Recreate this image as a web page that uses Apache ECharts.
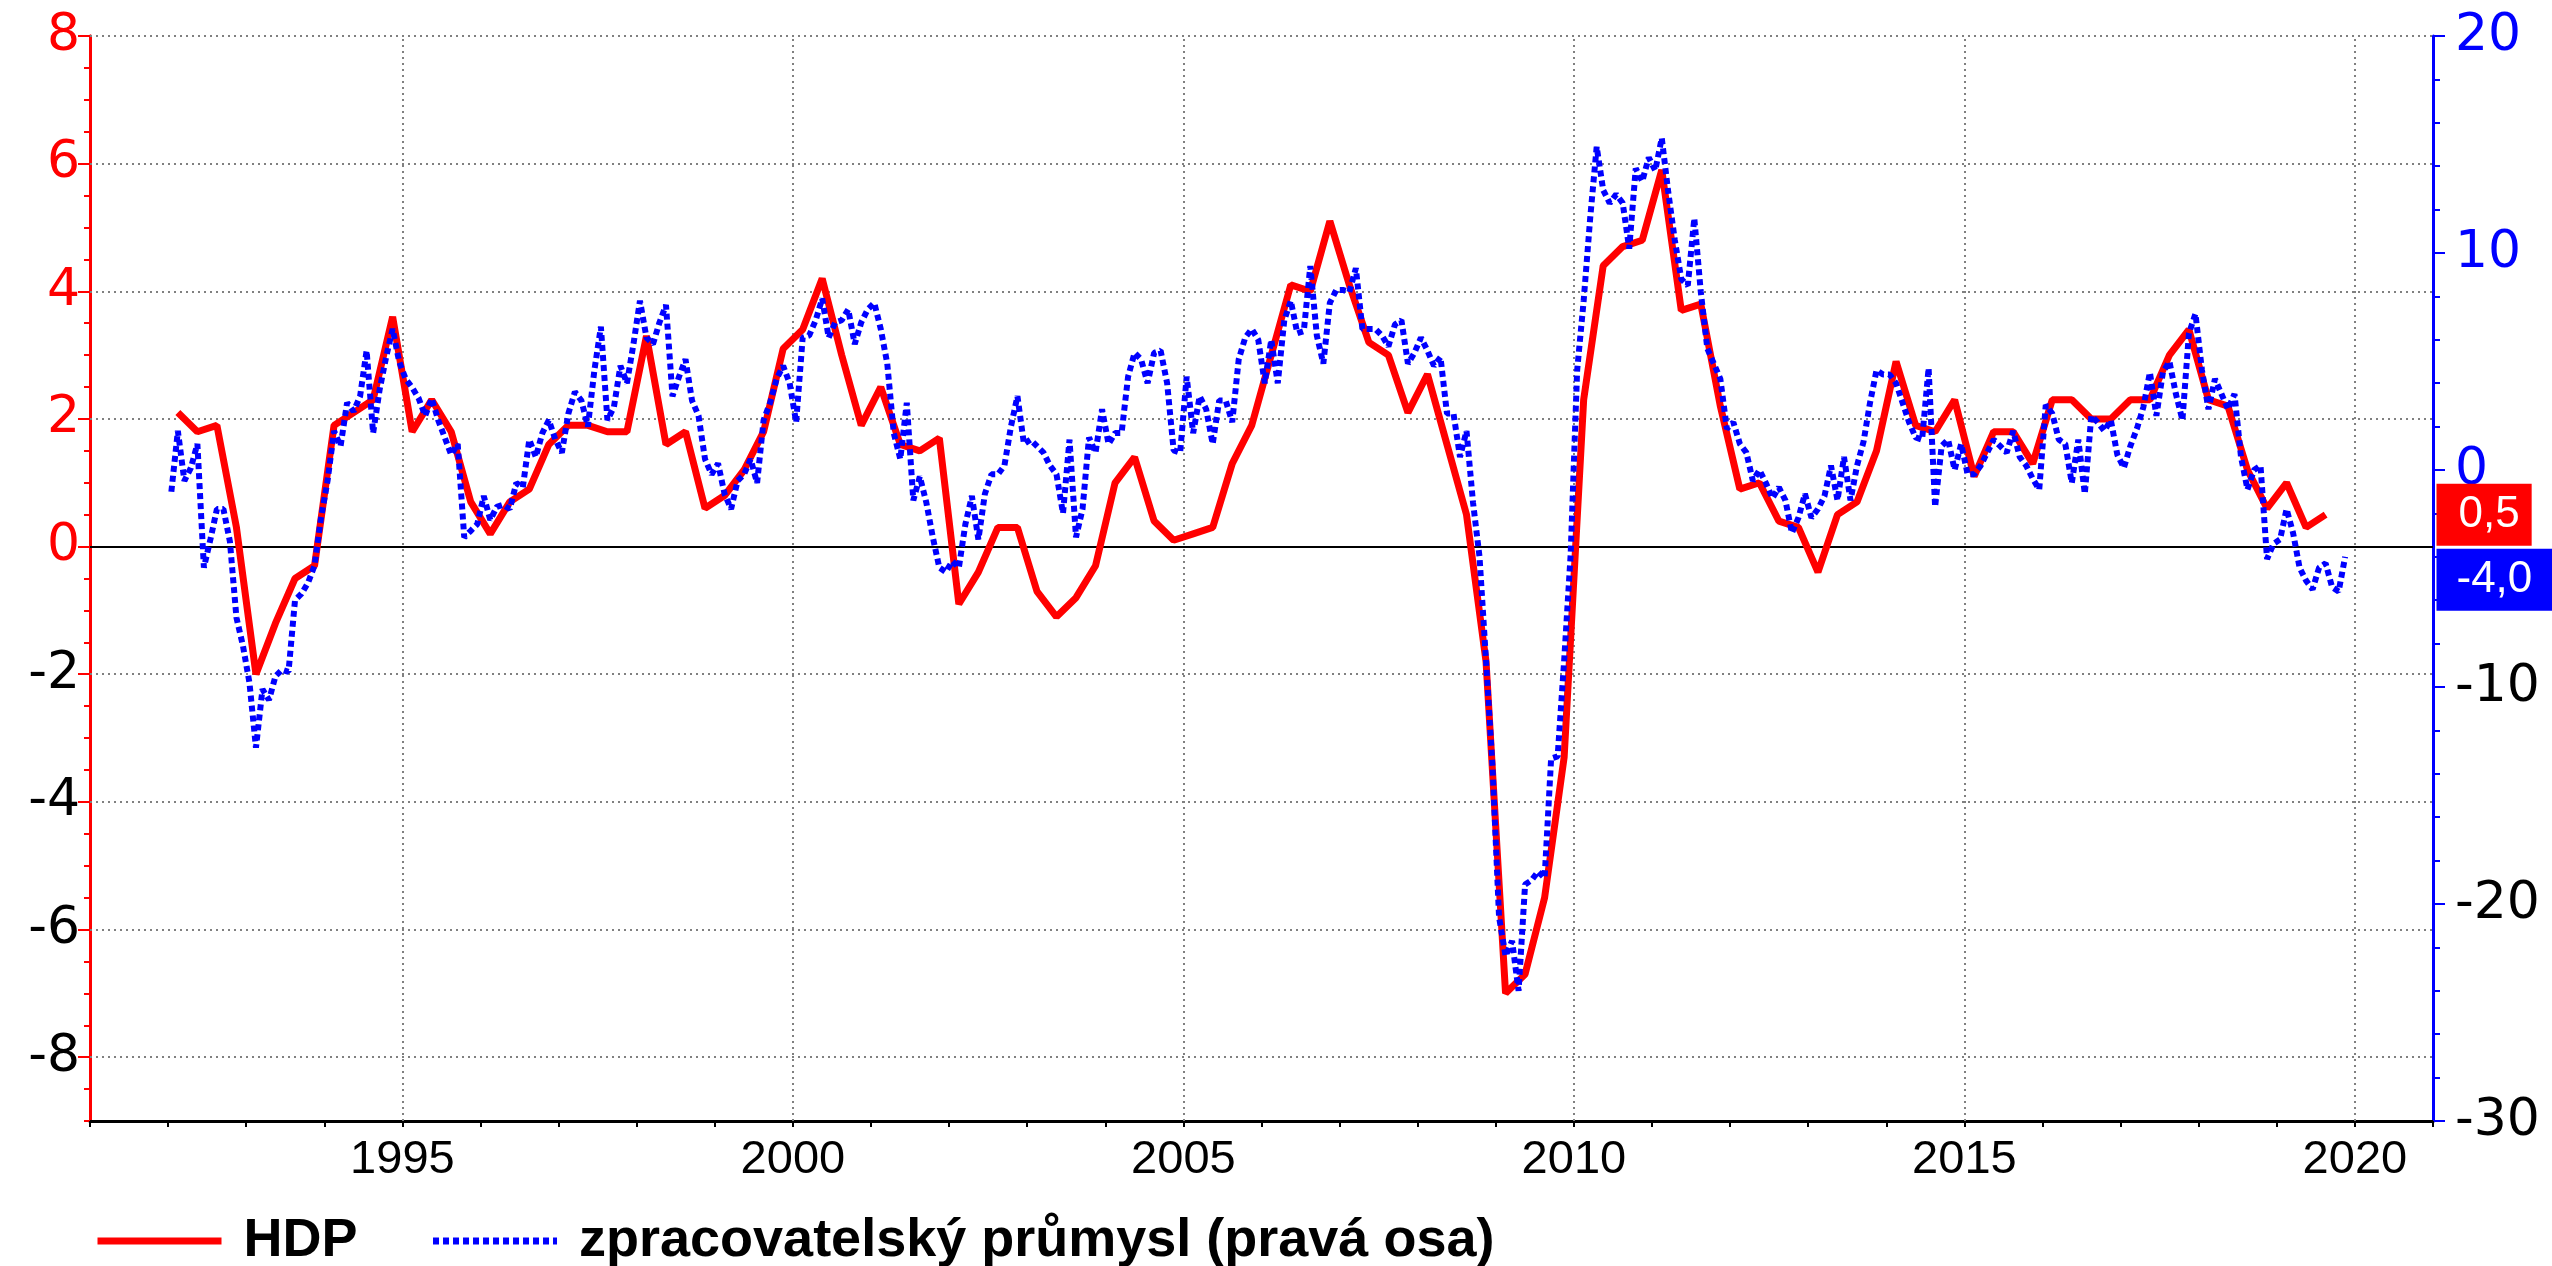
<!DOCTYPE html>
<html>
<head>
<meta charset="utf-8">
<script src="https://cdn.jsdelivr.net/npm/echarts@6.0.0/dist/echarts.min.js"></script>
<style>
    html, body { margin: 0; padding: 0; background: #fff; }
    #chartWrap { width: 2552px; height: 1266px; }
</style>
</head>
<body>
<div id="chartWrap"></div>
<script>
// HDP, mezirocni zmena v %, ctvrtletne od 1992 Q1
const hdpStart = 1992;
const hdp = [
    2.1, 1.8, 1.9, 0.3,
    -2.0, -1.2, -0.5, -0.3,
    1.9, 2.1, 2.3, 3.6,
    1.8, 2.3, 1.8, 0.7,
    0.2, 0.7, 0.9, 1.6,
    1.9, 1.9, 1.8, 1.8,
    3.3, 1.6, 1.8, 0.6,
    0.8, 1.2, 1.8, 3.1,
    3.4, 4.2, 3.0, 1.9,
    2.5, 1.6, 1.5, 1.7,
    -0.9, -0.4, 0.3, 0.3,
    -0.7, -1.1, -0.8, -0.3,
    1.0, 1.4, 0.4, 0.1,
    0.2, 0.3, 1.3, 1.9,
    3.0, 4.1, 4.0, 5.1,
    4.1, 3.2, 3.0, 2.1,
    2.7, 1.6, 0.5, -1.8,
    -7.0, -6.7, -5.5, -3.3,
    2.3, 4.4, 4.7, 4.8,
    5.9, 3.7, 3.8, 2.2,
    0.9, 1.0, 0.4, 0.3,
    -0.4, 0.5, 0.7, 1.5,
    2.9, 1.9, 1.8, 2.3,
    1.1, 1.8, 1.8, 1.3,
    2.3, 2.3, 2.0, 2.0,
    2.3, 2.3, 3.0, 3.4,
    2.3, 2.2, 1.2, 0.6,
    1.0, 0.3, 0.5
];

// zpracovatelsky prumysl, mesicne od 1992-01 (prava osa)
const industryStart = 1992;
const industry = [
    -1.0, 1.8, -0.5, 0.1, 1.2, -4.5, -3.2, -1.8, -1.8, -3.3, -6.8, -8.1,
    -9.8, -12.8, -10.1, -10.6, -9.5, -9.2, -9.3, -6.0, -5.7, -5.2, -4.4, -2.2,
    -0.5, 1.8, 1.1, 3.1, 2.7, 3.4, 5.5, 1.7, 3.7, 5.2, 6.5, 5.0,
    4.2, 3.8, 3.3, 2.5, 3.3, 2.3, 1.5, 0.7, 1.2, -3.1, -2.8, -2.5,
    -1.2, -2.3, -1.7, -1.6, -1.8, -0.6, -0.8, 1.4, 0.6, 1.7, 2.3, 1.4,
    0.8, 2.6, 3.6, 3.2, 2.0, 4.6, 6.6, 2.3, 2.9, 4.8, 4.0, 5.8,
    7.8, 6.1, 5.8, 6.8, 7.6, 3.4, 4.3, 5.1, 3.2, 2.5, 0.5, -0.2,
    0.3, -1.1, -1.8, -0.5, -0.2, 0.5, -0.6, 2.3, 3.1, 4.2, 4.8, 4.0,
    2.2, 6.1, 6.2, 6.9, 7.9, 6.1, 6.8, 6.9, 7.4, 5.8, 6.8, 7.4,
    7.7, 6.5, 4.9, 1.7, 0.5, 3.1, -1.4, -0.3, -1.5, -3.1, -4.5, -4.7,
    -4.2, -4.5, -2.5, -1.2, -3.2, -1.1, -0.2, -0.2, 0.2, 2.0, 3.4, 1.2,
    1.4, 1.1, 0.8, 0.2, -0.2, -2.0, 1.4, -3.1, -1.8, 1.5, 0.8, 2.8,
    1.2, 1.7, 1.7, 4.3, 5.4, 5.1, 4.0, 5.4, 5.5, 4.0, 0.9, 0.8,
    4.3, 1.7, 3.4, 2.8, 1.2, 3.2, 3.2, 2.2, 5.1, 6.1, 6.5, 6.0,
    4.0, 6.0, 4.0, 6.9, 7.8, 6.3, 6.4, 9.4, 6.2, 4.9, 7.7, 8.3,
    8.3, 8.2, 9.3, 6.5, 6.5, 6.5, 6.2, 5.7, 6.7, 6.9, 4.9, 5.4,
    6.1, 5.5, 4.8, 5.2, 2.6, 2.6, 0.6, 1.8, -1.5, -4.0, -8.8, -13.7,
    -20.6, -22.4, -21.7, -24.0, -19.1, -18.9, -18.5, -18.8, -13.3, -13.2, -8.8, -3.9,
    4.6, 7.8, 11.6, 14.9, 12.9, 12.3, 12.7, 12.3, 10.2, 13.9, 13.3, 14.4,
    13.8, 15.3, 12.8, 10.6, 8.8, 8.5, 11.6, 8.2, 5.6, 4.9, 4.2, 1.9,
    2.2, 1.2, 0.8, -0.5, 0.0, -0.6, -1.3, -0.8, -1.4, -2.9, -2.2, -1.1,
    -2.2, -1.8, -1.2, 0.2, -1.4, 0.6, -1.4, 0.2, 1.3, 3.1, 4.6, 4.4,
    4.4, 4.0, 3.1, 2.2, 1.5, 1.4, 4.7, -1.7, 1.1, 1.4, 0.0, 1.2,
    -0.2, -0.2, 0.2, 0.8, 1.4, 1.1, 0.8, 1.8, 0.6, 0.2, -0.4, -0.9,
    3.0, 2.6, 1.4, 1.2, -0.6, 1.4, -1.1, 2.5, 2.2, 1.8, 2.3, 0.7,
    0.1, 1.1, 1.9, 2.9, 4.5, 2.5, 4.5, 5.0, 3.5, 2.3, 6.3, 7.2,
    4.6, 2.8, 4.2, 3.5, 2.8, 3.5, 0.6, -0.9, 0.0, 0.2, -4.1, -3.4,
    -3.2, -1.8, -2.9, -4.5, -5.1, -5.5, -4.5, -4.3, -5.4, -5.6, -4.0
];

// osy
const xMin = 1991, xMax = 2021;
const gridYears = [1995, 2000, 2005, 2010, 2015, 2020];
const leftMin = -9, leftMax = 8;
const leftTicks = [-8, -6, -4, -2, 0, 2, 4, 6, 8];
const rightMin = -30, rightMax = 20;

const names = ['HDP', 'zpracovatelský průmysl (pravá osa)'];
const RED = '#ff0000';
const BLUE = '#0000ff';
const font = 'Liberation Sans, Arial, sans-serif';
const wideFont = 'DejaVu Sans, Liberation Sans, sans-serif';

// ctvrtleti / mesice na stred obdobi
const hdpData = hdp.map(function (v, i) { return [hdpStart + i / 4 + 0.125, v]; });
const industryData = industry.map(function (v, i) { return [industryStart + i / 12 + 1 / 24, v]; });

function comma(v) {
    return Number(v).toFixed(1).replace('.', ',');
}

let myChart = echarts.init(document.getElementById('chartWrap'), null, {renderer: 'canvas'});

myChart.setOption({
    animation: false,
    backgroundColor: '#ffffff',
    textStyle: {fontFamily: font},
    grid: {left: 90, right: 119, top: 36, bottom: 145, containLabel: false, outerBoundsMode: 'none'},
    legend: {
        data: names,
        left: 89,
        top: 1209,
        itemWidth: 124,
        itemHeight: 14,
        itemGap: 72,
        itemStyle: {opacity: 0},
        lineStyle: {width: 7},
        textStyle: {fontSize: 54, fontWeight: 'bold', color: '#000', fontFamily: font, padding: [0, 0, 0, 17]}
    },
    xAxis: {
        type: 'value',
        min: xMin,
        max: xMax,
        interval: 1,
        axisLine: {onZero: false, lineStyle: {color: '#000', width: 3}},
        axisTick: {length: 6, lineStyle: {color: '#000', width: 2}},
        axisLabel: {
            margin: 16,
            fontSize: 47,
            color: '#000',
            fontFamily: font,
            formatter: function (v) { return v % 5 === 0 ? String(v) : ''; }
        },
        splitLine: {show: false}
    },
    yAxis: [
        {
            // leva osa, popisky + drobne ticky
            type: 'value',
            position: 'left',
            min: leftMin,
            max: leftMax,
            interval: 0.5,
            axisLine: {show: true, onZero: false, lineStyle: {color: RED, width: 3}},
            axisTick: {show: true, length: 6, lineStyle: {color: RED, width: 2}},
            axisLabel: {
                margin: 10,
                fontSize: 52,
                fontFamily: wideFont,
                formatter: function (v) { return v % 2 === 0 ? String(v) : ''; },
                color: function (v) { return Number(v) >= 0 ? RED : '#000'; }
            },
            splitLine: {show: false}
        },
        {
            // leva osa, hlavni ticky
            type: 'value',
            position: 'left',
            min: leftMin,
            max: leftMax,
            axisLine: {show: true, onZero: false, lineStyle: {color: RED, width: 3}},
            axisTick: {show: true, length: 12, customValues: leftTicks, lineStyle: {color: RED, width: 2}},
            axisLabel: {show: false},
            splitLine: {show: false}
        },
        {
            // prava osa, popisky + hlavni ticky
            type: 'value',
            position: 'right',
            min: rightMin,
            max: rightMax,
            interval: 10,
            axisLine: {show: true, onZero: false, lineStyle: {color: BLUE, width: 3}},
            axisTick: {show: true, length: 12, lineStyle: {color: BLUE, width: 2}},
            axisLabel: {
                margin: 22,
                fontSize: 52,
                fontFamily: wideFont,
                color: function (v) { return Number(v) >= 0 ? BLUE : '#000'; }
            },
            splitLine: {show: false}
        },
        {
            // prava osa, drobne ticky
            type: 'value',
            position: 'right',
            min: rightMin,
            max: rightMax,
            interval: 2,
            axisLine: {show: false},
            axisTick: {show: true, length: 7, lineStyle: {color: BLUE, width: 2}},
            axisLabel: {show: false},
            splitLine: {show: false}
        }
    ],
    series: [
        {
            name: names[0],
            type: 'line',
            yAxisIndex: 0,
            data: hdpData,
            symbol: 'none',
            z: 3,
            lineStyle: {color: RED, width: 7},
            itemStyle: {color: RED},
            markLine: {
                silent: true,
                z: 1,
                symbol: ['none', 'none'],
                label: {show: false},
                lineStyle: {color: '#808080', width: 2, type: [2, 4]},
                data: gridYears.map(function (y) { return {xAxis: y}; })
                    .concat(leftTicks.filter(function (v) { return v !== 0; }).map(function (v) { return {yAxis: v}; }))
                    .concat([{yAxis: 0, lineStyle: {color: '#000', width: 2, type: 'solid'}}])
            },
            markPoint: {
                symbol: 'circle',
                symbolSize: 1,
                itemStyle: {color: 'rgba(0,0,0,0)'},
                label: {
                    show: true,
                    position: 'right',
                    distance: 3,
                    color: '#fff',
                    backgroundColor: RED,
                    fontSize: 44,
                    lineHeight: 42,
                    fontFamily: font,
                    padding: [10, 12, 10, 22],
                    formatter: function (p) { return comma(p.value); }
                },
                data: [{coord: [xMax, hdp[hdp.length - 1]], value: hdp[hdp.length - 1]}]
            }
        },
        {
            name: names[1],
            type: 'line',
            yAxisIndex: 2,
            data: industryData,
            symbol: 'none',
            z: 4,
            lineStyle: {color: BLUE, width: 6, type: [6, 4]},
            itemStyle: {color: BLUE},
            markPoint: {
                symbol: 'circle',
                symbolSize: 1,
                itemStyle: {color: 'rgba(0,0,0,0)'},
                label: {
                    show: true,
                    position: 'right',
                    distance: 3,
                    offset: [0, 23],
                    color: '#fff',
                    backgroundColor: BLUE,
                    fontSize: 44,
                    lineHeight: 42,
                    fontFamily: font,
                    padding: [10, 22, 10, 20],
                    formatter: function (p) { return comma(p.value); }
                },
                data: [{coord: [xMax, industry[industry.length - 1]], value: industry[industry.length - 1]}]
            }
        }
    ]
});
</script>
</body>
</html>
